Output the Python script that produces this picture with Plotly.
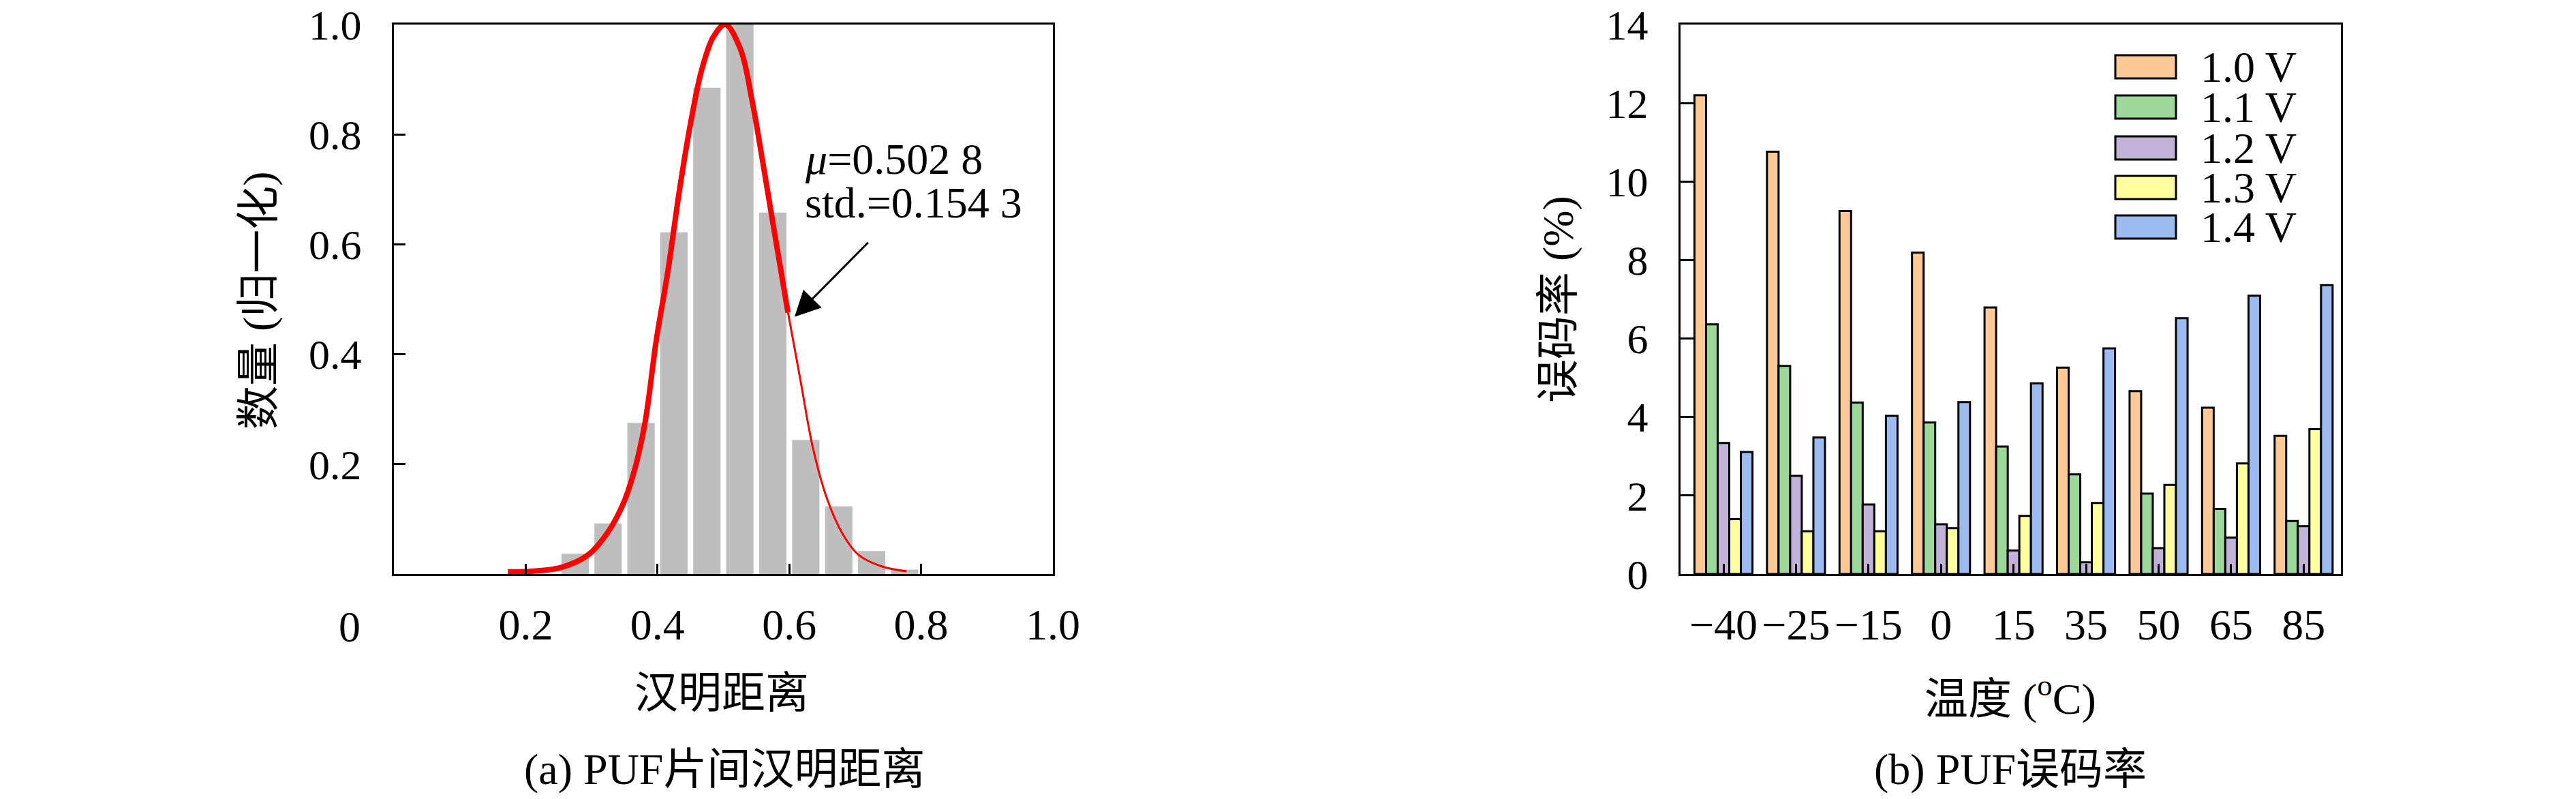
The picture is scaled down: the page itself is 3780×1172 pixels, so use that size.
import plotly.graph_objects as go

W, H = 3780, 1172
OFF = 0  # body margin removed by post_script

# ---------------- data: (a) histogram of inter-chip Hamming distance ----------------
hd_centers = [0.275, 0.325, 0.375, 0.425, 0.475, 0.525, 0.575, 0.625, 0.675, 0.725, 0.775]
hd_counts = [0.037, 0.092, 0.275, 0.622, 0.885, 1.0, 0.658, 0.244, 0.123, 0.042, 0.008]

# fitted curve (thick part then thin part)
fit_x_thick = [0.173, 0.209, 0.254, 0.295, 0.323, 0.347, 0.364, 0.381, 0.398, 0.416,
               0.433, 0.450, 0.467, 0.485, 0.503, 0.526, 0.543, 0.560, 0.578, 0.598]
fit_y_thick = [0.004, 0.005, 0.012, 0.035, 0.073, 0.125, 0.184, 0.275, 0.424, 0.553,
               0.696, 0.819, 0.917, 0.978, 1.000, 0.955, 0.865, 0.748, 0.618, 0.476]
fit_x_thin = [0.598, 0.616, 0.636, 0.657, 0.681, 0.705, 0.740, 0.778]
fit_y_thin = [0.476, 0.359, 0.229, 0.138, 0.073, 0.035, 0.014, 0.005]

hist_xticks = [0.2, 0.4, 0.6, 0.8, 1.0]
hist_xticktext = ["0.2", "0.4", "0.6", "0.8", "1.0"]
hist_yticks = [0.2, 0.4, 0.6, 0.8, 1.0]
hist_yticktext = ["0.2", "0.4", "0.6", "0.8", "1.0"]

# ---------------- data: (b) PUF bit error rate ----------------
temps = ["\u221240", "\u221225", "\u221215", "0", "15", "35", "50", "65", "85"]
volt_names = ["1.0 V", "1.1 V", "1.2 V", "1.3 V", "1.4 V"]
ber_10 = [12.2, 10.76, 9.25, 8.19, 6.79, 5.26, 4.66, 4.24, 3.52]
ber_11 = [6.36, 5.30, 4.37, 3.86, 3.25, 2.54, 2.05, 1.66, 1.35]
ber_12 = [3.34, 2.50, 1.77, 1.27, 0.60, 0.30, 0.66, 0.93, 1.22]
ber_13 = [1.40, 1.09, 1.09, 1.17, 1.48, 1.81, 2.27, 2.82, 3.69]
ber_14 = [3.11, 3.48, 4.03, 4.38, 4.86, 5.75, 6.52, 7.09, 7.36]
ber_yticks = [0, 2, 4, 6, 8, 10, 12, 14]

colors = ["#FDC996", "#9DD89B", "#C3B2D7", "#FFFFA0", "#9CBBF0"]

FONT = "Liberation Serif, Noto Sans CJK SC"
FS = 64
FS_Y = 62


def px(x):
    return (x - OFF) / W


def py(y):
    return 1 - (y - OFF) / H


fig = go.Figure()

# (a)
fig.add_trace(go.Bar(x=hd_centers, y=hd_counts, width=0.0415,
                     marker=dict(color="#BEBEBE", line=dict(width=0)),
                     xaxis="x", yaxis="y", showlegend=False))
fig.add_trace(go.Scatter(x=fit_x_thick, y=fit_y_thick, mode="lines",
                         line=dict(color="#FF0000", width=8, shape="spline"),
                         xaxis="x", yaxis="y", showlegend=False))
fig.add_trace(go.Scatter(x=fit_x_thin, y=fit_y_thin, mode="lines",
                         line=dict(color="#FF0000", width=3, shape="spline"),
                         xaxis="x", yaxis="y", showlegend=False))

# (b)
xs = list(range(len(temps)))
for name, vals, col in zip(volt_names, [ber_10, ber_11, ber_12, ber_13, ber_14], colors):
    fig.add_trace(go.Bar(x=xs, y=vals, name=name,
                         marker=dict(color=col, line=dict(color="black", width=3)),
                         xaxis="x2", yaxis="y2", showlegend=False))

axis_common = dict(showline=True, linecolor="black", linewidth=3, mirror=True,
                   ticks="inside", tickwidth=3, tickcolor="black",
                   showgrid=False, zeroline=False, automargin=False,
                   ticklabeloverflow="allow")

fig.update_layout(
    width=W, height=H,
    margin=dict(l=0, r=0, t=0, b=0, pad=0, autoexpand=False),
    showlegend=False,
    paper_bgcolor="white", plot_bgcolor="white",
    barmode="group", bargap=0.2, bargroupgap=0,
    font=dict(family=FONT, size=FS, color="black"),
    xaxis=dict(domain=[px(578), px(1545)], range=[0, 1], tickvals=hist_xticks,
               ticktext=hist_xticktext, ticklen=15, tickangle=0,
               ticklabelstandoff=16, anchor="y",
               tickfont=dict(family=FONT, size=FS, color="black"), **axis_common),
    yaxis=dict(domain=[py(842), py(36)], range=[0, 1], tickvals=hist_yticks,
               ticktext=hist_yticktext, ticklen=17, ticklabelstandoff=32,
               anchor="x", tickfont=dict(family=FONT, size=FS_Y, color="black"),
               **axis_common),
    xaxis2=dict(domain=[px(2466), px(3435)], range=[-0.592, 8.514], tickvals=xs,
                ticktext=temps, ticklen=15, tickangle=0, ticklabelstandoff=16,
                anchor="y2", tickfont=dict(family=FONT, size=FS, color="black"),
                **axis_common),
    yaxis2=dict(domain=[py(842), py(36)], range=[0, 14], tickvals=ber_yticks,
                ticklen=20, ticklabelstandoff=32, anchor="x2",
                tickfont=dict(family=FONT, size=FS_Y, color="black"), **axis_common),
)

ann = []


def text_at(x, y, t, angle=0, xanchor="center", size=FS):
    ann.append(dict(x=px(x), y=py(y), xref="paper", yref="paper", text=t,
                    showarrow=False, xanchor=xanchor, yanchor="middle",
                    textangle=angle, font=dict(family=FONT, size=size, color="black")))


text_at(513, 919, "0")
text_at(379, 441, "数量 (归一化)", angle=-90)
text_at(1059, 1016, "汉明距离")
text_at(1063, 1128, "(a) PUF片间汉明距离")
text_at(1179, 233, "<i>μ</i>=0.502 8", xanchor="left")
text_at(1179, 297, "std.=0.154 3", xanchor="left")

text_at(2287, 439, "误码率 (%)", angle=-90)
text_at(2950, 1020, "温度 (<sup>o</sup>C)")
text_at(2950, 1128, "(b) PUF误码率")

# arrow
ann.append(dict(x=0.608, y=0.468, xref="x", yref="y", ax=0.721, ay=0.605,
                axref="x", ayref="y", showarrow=True, arrowhead=2, arrowsize=2.5,
                arrowwidth=3, arrowcolor="black", text=""))

# legend (custom, large swatches)
shapes = []
centers = [98, 157, 217, 275, 333]
for name, col, c in zip(volt_names, colors, centers):
    shapes.append(dict(type="rect", xref="paper", yref="paper",
                       x0=px(3104), x1=px(3193), y0=py(c + 17), y1=py(c - 17),
                       fillcolor=col, line=dict(color="black", width=3)))
    text_at(3227, c, name, xanchor="left")

fig.update_layout(annotations=ann, shapes=shapes)

fig.write_html("out.html",
               config={"displayModeBar": False},
               post_script="document.body.style.margin='0';document.body.style.padding='0';")
